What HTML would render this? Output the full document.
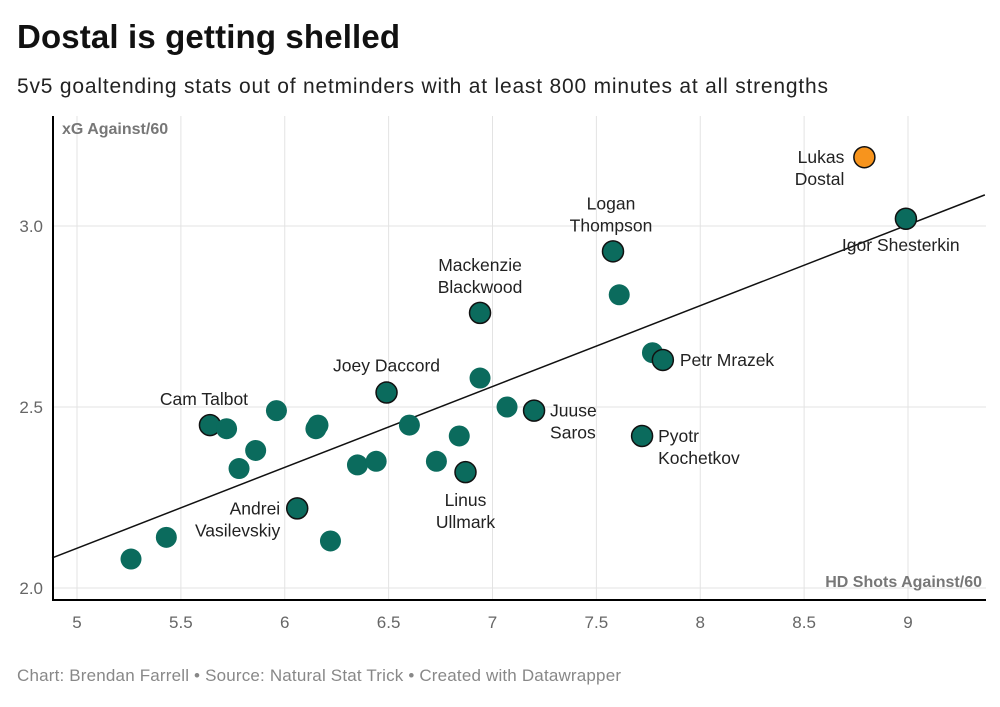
<!DOCTYPE html>
<html><head><meta charset="utf-8"><style>
body{margin:0;background:#fff;width:1000px;height:702px;overflow:hidden;font-family:"Liberation Sans",sans-serif}
</style></head><body>
<svg id="c" width="1000" height="702" xmlns="http://www.w3.org/2000/svg" font-family="Liberation Sans, sans-serif">
<text x="17" y="48" font-size="33" font-weight="bold" fill="#111" textLength="383">Dostal is getting shelled</text>
<text x="17" y="93" font-size="21" fill="#222" textLength="811">5v5 goaltending stats out of netminders with at least 800 minutes at all strengths</text>
<text x="17" y="681" font-size="17" fill="#888" textLength="604">Chart: Brendan Farrell • Source: Natural Stat Trick • Created with Datawrapper</text>
<g id="grid"></g><g id="reg"></g><g id="dots"></g><g id="labels"></g>
<line x1="53" y1="116" x2="53" y2="601" stroke="#000" stroke-width="2"/>
<line x1="52" y1="600" x2="986" y2="600" stroke="#000" stroke-width="2"/>
<text x="62" y="134" font-size="16" font-weight="bold" fill="#777">xG Against/60</text>
<text x="982" y="587" font-size="16" font-weight="bold" fill="#777" text-anchor="end">HD Shots Against/60</text>
</svg>
<script>
const xTicks=[5,5.5,6,6.5,7,7.5,8,8.5,9];
const yTicks=[2.0,2.5,3.0];
const xs=[5.26,5.43,5.64,5.72,5.78,5.86,5.96,6.06,6.15,6.16,6.22,6.35,6.44,6.49,6.60,6.73,6.84,6.87,6.94,6.94,7.07,7.20,7.58,7.61,7.72,7.77,7.82,8.79,8.99];
const ys=[2.08,2.14,2.45,2.44,2.33,2.38,2.49,2.22,2.44,2.45,2.13,2.34,2.35,2.54,2.45,2.35,2.42,2.32,2.76,2.58,2.50,2.49,2.93,2.81,2.42,2.65,2.63,3.19,3.02];
const names=["","","Cam Talbot","","","","","Andrei|Vasilevskiy","","","","","","Joey Daccord","","","","Linus|Ullmark","Mackenzie|Blackwood","","","Juuse|Saros","Logan|Thompson","","Pyotr|Kochetkov","","Petr Mrazek","Lukas|Dostal","Igor Shesterkin"];
const regLine=[4.88,2.083,9.37,3.086];
const X=v=>77+(v-5)*207.75, Y=v=>226-(v-3)*362;
const NS="http://www.w3.org/2000/svg";
function mk(t,a,p){const e=document.createElementNS(NS,t);for(const k in a)e.setAttribute(k,a[k]);p.appendChild(e);return e;}
const g=document.getElementById('grid');
xTicks.forEach(t=>{const l=mk('line',{x1:X(t),x2:X(t),y1:116,y2:600,stroke:'#e3e3e3'},g);


const s=mk('text',{x:X(t),y:628,'font-size':17,fill:'#666','text-anchor':'middle'},g);s.textContent=t;

});
yTicks.forEach(t=>{const l=mk('line',{x1:53,x2:986,y1:Y(t),y2:Y(t),stroke:'#e3e3e3'},g);


const s=mk('text',{x:43,y:Y(t)+6,'font-size':17,fill:'#666','text-anchor':'end'},g);s.textContent=t.toFixed(1);

});
const r=mk('line',{x1:X(regLine[0]),y1:Y(regLine[1]),x2:X(regLine[2]),y2:Y(regLine[3]),stroke:'#111','stroke-width':1.5},document.getElementById('reg'));


const d=document.getElementById('dots'),L=document.getElementById('labels');
const lab={"Cam Talbot":[-6,-20,'middle'],"Andrei|Vasilevskiy":[-17,6,'end'],"Joey Daccord":[0,-21,'middle'],"Linus|Ullmark":[0,34,'middle'],"Mackenzie|Blackwood":[0,-42,'middle'],"Juuse|Saros":[16,6,'start'],"Logan|Thompson":[-2,-42,'middle'],"Pyotr|Kochetkov":[16,6,'start'],"Petr Mrazek":[17,6,'start'],"Lukas|Dostal":[-20,6,'end'],"Igor Shesterkin":[-64,32,'start']};
xs.forEach((v,i)=>{const hl=names[i]!=="";const dost=names[i]==="Lukas|Dostal";
const c=mk('circle',{cx:X(v),cy:Y(ys[i]),r:10.5,fill:dost?'#f7941d':'#0b6b5d',stroke:hl?'#111':'none','stroke-width':1.5},d);


if(hl){const o=lab[names[i]];const lines=names[i].split('|');const t=mk('text',{x:X(v)+o[0],y:Y(ys[i])+o[1],'font-size':17.5,fill:'#222','text-anchor':o[2]},L);


lines.forEach((s,j)=>{const ts=mk('tspan',{x:X(v)+o[0],dy:j?22:0},t);ts.textContent=s;});}
});
</script>
</body></html>
